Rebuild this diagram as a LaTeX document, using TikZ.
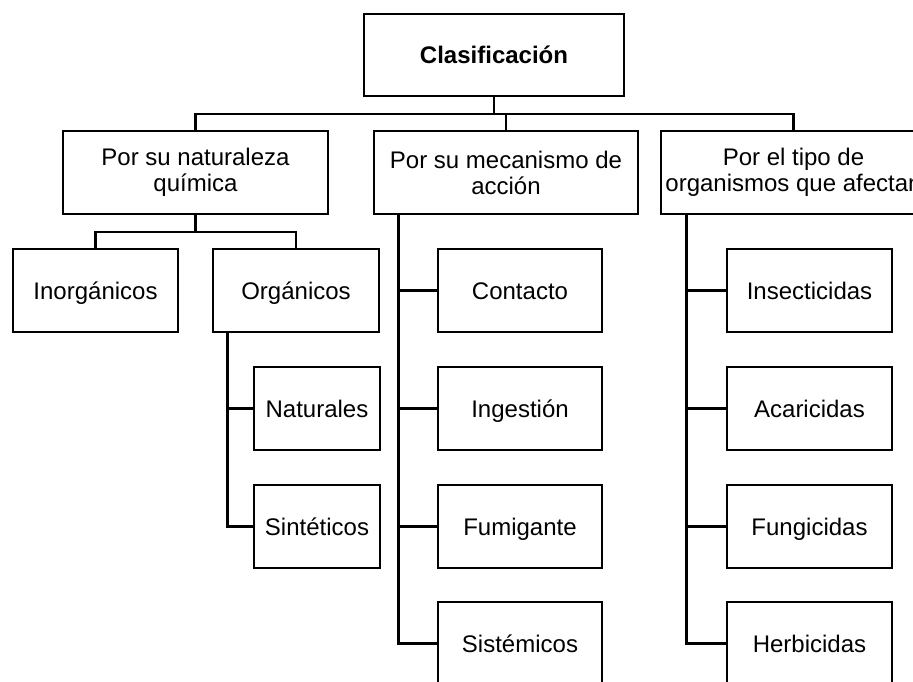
\documentclass[tikz,border=0pt]{standalone}
\usepackage{fontspec}
\setmainfont{Liberation Sans}
\begin{document}
\begin{tikzpicture}[x=1pt,y=-1pt,
  box/.style={draw, line width=2.8pt, align=center, inner sep=0pt,
    font=\fontsize{24}{26}\selectfont, minimum height=83pt},
  one/.style={text height=17.2pt, text depth=0pt},
  conn/.style={line width=2.8pt}]
\useasboundingbox (0,0) rectangle (913,681);
\clip (0,0) rectangle (913,681);
% level 1
\node[box, one, minimum width=260pt, minimum height=82pt,
  font=\bfseries\fontsize{24}{26}\selectfont] (root) at (494,55) {Clasificación};
% level 2
\node[box, minimum width=265pt] (cL) at (195.5,172.5) {Por su naturaleza\\química};
\node[box, minimum width=264pt] (cM) at (506,172.5) {Por su mecanismo de\\acción};
\node[box, minimum width=265pt] (cR) at (793.5,172.5) {Por el tipo de\\organismos que afectan};
% left branch
\node[box, one, minimum width=165pt] (inorg) at (95.5,290.5) {Inorgánicos};
\node[box, one, minimum width=166pt] (org) at (296,290.5) {Orgánicos};
\node[box, one, minimum width=126pt] (nat) at (317,408.5) {Naturales};
\node[box, one, minimum width=126pt] (sint) at (317,526.5) {Sintéticos};
% middle branch
\node[box, one, minimum width=164pt] (cont) at (520,290.5) {Contacto};
\node[box, one, minimum width=164pt] (ing) at (520,408.5) {Ingestión};
\node[box, one, minimum width=164pt] (fum) at (520,526.5) {Fumigante};
\node[box, one, minimum width=164pt] (sis) at (520,643.5) {Sistémicos};
% right branch
\node[box, one, minimum width=165pt] (ins) at (809.5,290.5) {Insecticidas};
\node[box, one, minimum width=165pt] (aca) at (809.5,408.5) {Acaricidas};
\node[box, one, minimum width=165pt] (fun) at (809.5,526.5) {Fungicidas};
\node[box, one, minimum width=165pt] (her) at (809.5,643.5) {Herbicidas};
% connectors
\coordinate (bus) at (494,114);
\draw[conn] (root.south) -- (bus);
\draw[conn] (cL.north) |- (bus);
\draw[conn] (cR.north) |- (bus);
\draw[conn] (cM.north) |- (bus);
\coordinate (lbus) at (195.5,232);
\draw[conn] (cL.south) -- (lbus);
\draw[conn] (inorg.north) |- (lbus);
\draw[conn] (org.north) |- (lbus);
\draw[conn] ([xshift=16pt]org.south west) |- (nat.west);
\draw[conn] ([xshift=16pt]org.south west) |- (sint.west);
\draw[conn] ([xshift=26pt]cM.south west) |- (cont.west);
\draw[conn] ([xshift=26pt]cM.south west) |- (ing.west);
\draw[conn] ([xshift=26pt]cM.south west) |- (fum.west);
\draw[conn] ([xshift=26pt]cM.south west) |- (sis.west);
\draw[conn] ([xshift=27pt]cR.south west) |- (ins.west);
\draw[conn] ([xshift=27pt]cR.south west) |- (aca.west);
\draw[conn] ([xshift=27pt]cR.south west) |- (fun.west);
\draw[conn] ([xshift=27pt]cR.south west) |- (her.west);
\end{tikzpicture}
\end{document}
